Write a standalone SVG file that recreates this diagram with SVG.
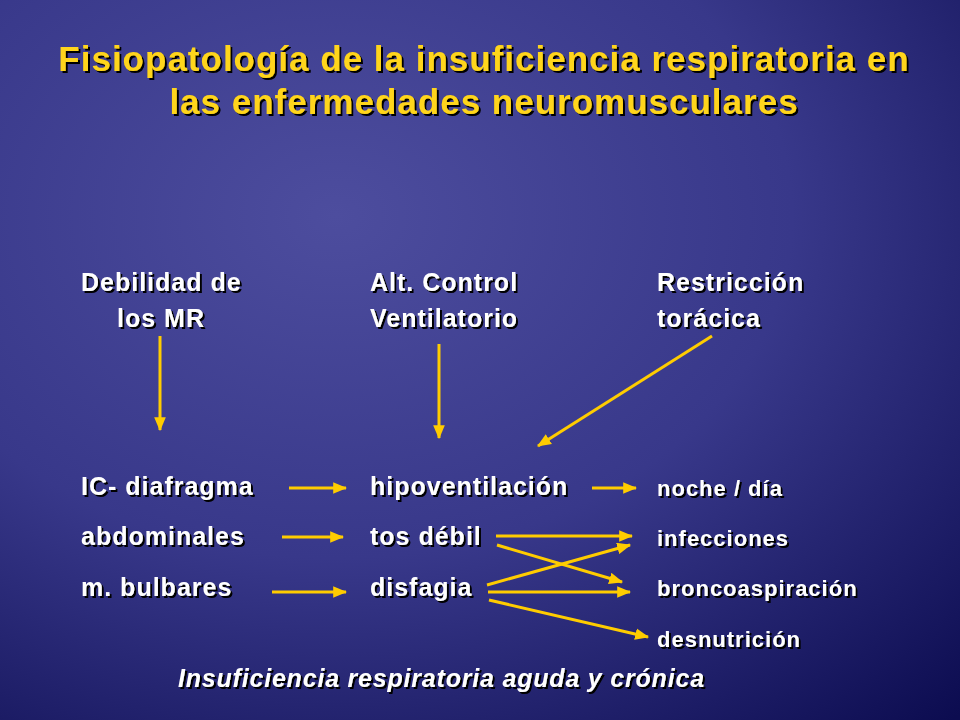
<svg xmlns="http://www.w3.org/2000/svg" width="960" height="720" viewBox="0 0 960 720">
<defs>
<radialGradient id="bg" cx="0.35" cy="0.3" r="0.95">
<stop offset="0" stop-color="#4d4d9e"/>
<stop offset="0.5" stop-color="#38388a"/>
<stop offset="1" stop-color="#0c0c50"/>
</radialGradient>
<filter id="sh" x="-5%" y="-20%" width="110%" height="140%">
<feDropShadow dx="2" dy="2" stdDeviation="0.3" flood-color="#000" flood-opacity="1"/>
</filter>
<marker id="a" viewBox="0 0 12 10" refX="11" refY="5" markerWidth="14" markerHeight="12" orient="auto" markerUnits="userSpaceOnUse">
<path d="M0,0 L12,5 L0,10 z" fill="#ffcc00"/>
</marker>
<style>
text{font-family:"Liberation Sans",Arial,sans-serif;font-weight:bold;fill:#fff;filter:url(#sh);}
.t{fill:#ffd51a;font-size:35px;text-anchor:middle;letter-spacing:1px;}
.n{font-size:25px;letter-spacing:1px;}
.s{font-size:22px;letter-spacing:1px;}
.f{font-size:25px;letter-spacing:0.8px;font-style:italic;}
line{stroke:#ffcc00;stroke-width:3;marker-end:url(#a);}
</style>
</defs>
<rect width="960" height="720" fill="url(#bg)"/>
<g id="title">
<text class="t" x="484" y="71">Fisiopatología de la insuficiencia respiratoria en</text>
<text class="t" x="484" y="114">las enfermedades neuromusculares</text>
</g>
<g id="debilidad"><text class="n" x="81" y="291">Debilidad de</text><text class="n" x="117" y="327">los MR</text></g>
<g id="control"><text class="n" x="370" y="291">Alt. Control</text><text class="n" x="370" y="327">Ventilatorio</text></g>
<g id="restriccion"><text class="n" x="657" y="291">Restricción</text><text class="n" x="657" y="327">torácica</text></g>
<g id="ic"><text class="n" x="81" y="495">IC- diafragma</text></g>
<g id="abd"><text class="n" x="81" y="545">abdominales</text></g>
<g id="bulb"><text class="n" x="81" y="596">m. bulbares</text></g>
<g id="hipo"><text class="n" x="370" y="495">hipoventilación</text></g>
<g id="tos"><text class="n" x="370" y="545">tos débil</text></g>
<g id="disf"><text class="n" x="370" y="596">disfagia</text></g>
<g id="noche"><text class="s" x="657" y="496">noche / día</text></g>
<g id="infec"><text class="s" x="657" y="546">infecciones</text></g>
<g id="bronco"><text class="s" x="657" y="596">broncoaspiración</text></g>
<g id="desn"><text class="s" x="657" y="647">desnutrición</text></g>
<g id="footer"><text class="f" x="178" y="687">Insuficiencia respiratoria aguda y crónica</text></g>
<g id="connectors">
<line x1="160" y1="336" x2="160" y2="430"/>
<line x1="439" y1="344" x2="439" y2="438"/>
<line x1="712" y1="336" x2="538" y2="446"/>
<line x1="289" y1="488" x2="346" y2="488"/>
<line x1="282" y1="537" x2="343" y2="537"/>
<line x1="272" y1="592" x2="346" y2="592"/>
<line x1="592" y1="488" x2="636" y2="488"/>
<line x1="496" y1="536" x2="632" y2="536"/>
<line x1="497" y1="545" x2="622" y2="582"/>
<line x1="487" y1="585" x2="630" y2="545"/>
<line x1="488" y1="592" x2="630" y2="592"/>
<line x1="489" y1="600" x2="648" y2="637"/>
</g>
</svg>
